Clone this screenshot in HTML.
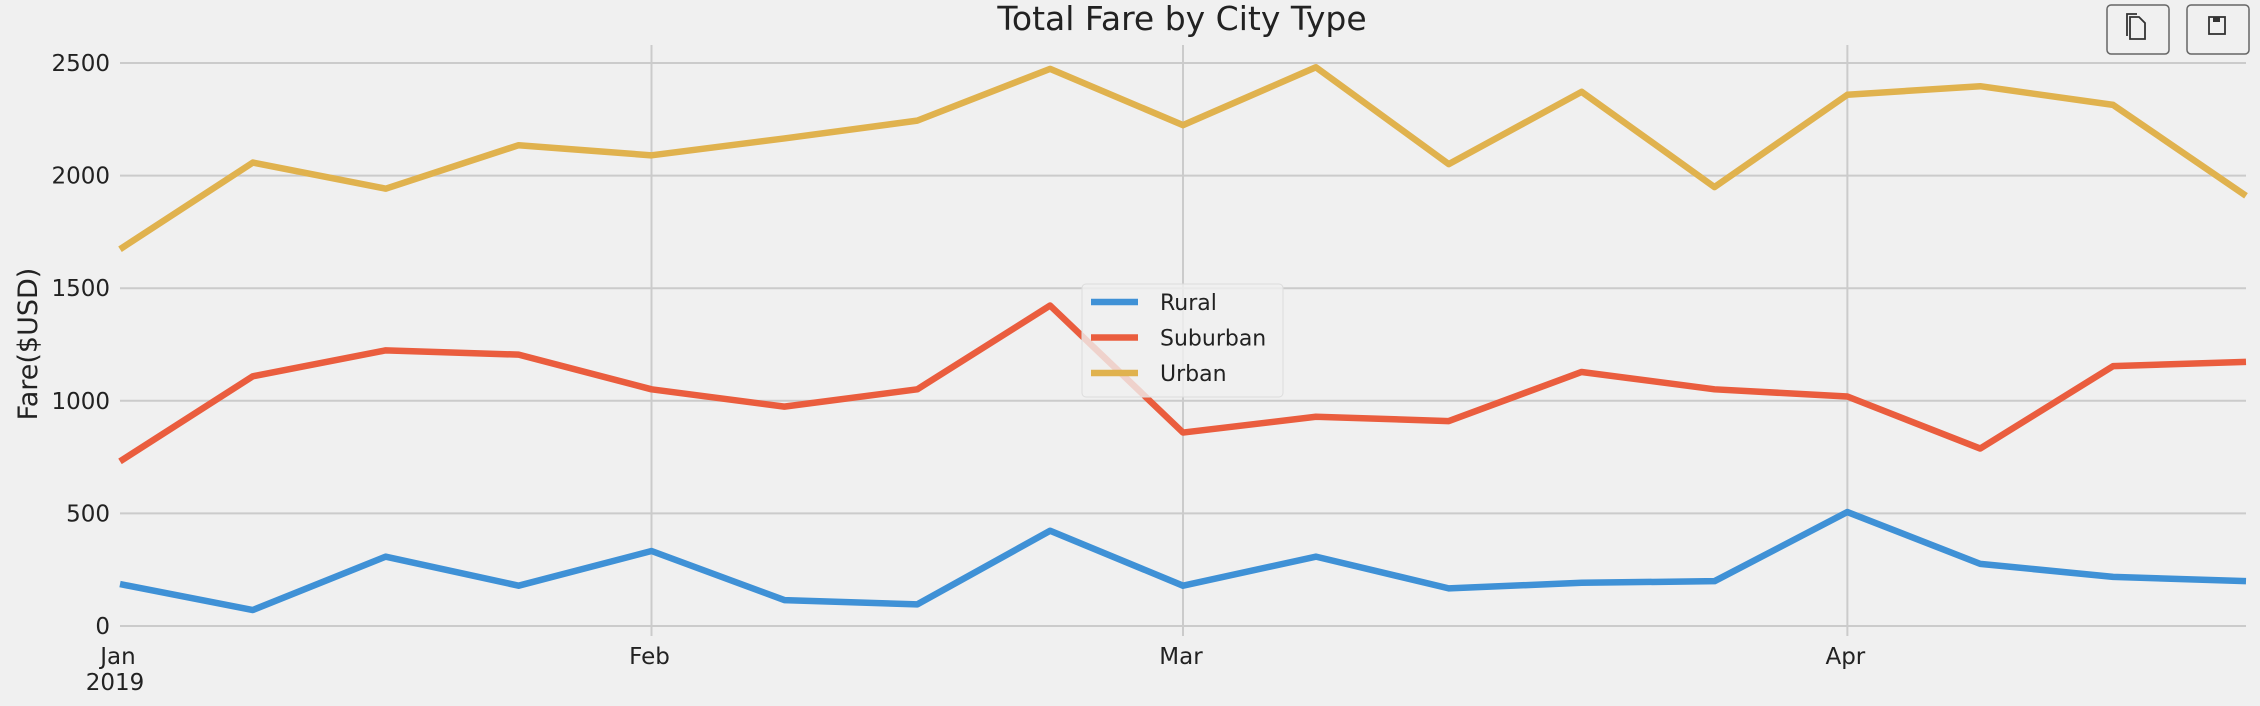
<!DOCTYPE html>
<html><head><meta charset="utf-8"><style>
html,body{margin:0;padding:0;background:#f0f0f0;}
svg{display:block;font-family:"DejaVu Sans","Liberation Sans",sans-serif;}
</style></head><body>
<svg id="chart" width="2260" height="706" viewBox="0 0 2260 706">
<rect x="0" y="0" width="2260" height="706" fill="#f0f0f0"/>
<g id="grid"></g>
<g id="lines"></g>
<g id="axes"></g>
<text x="1182" y="30" font-size="33" text-anchor="middle" fill="#222">Total Fare by City Type</text>
<text transform="translate(37,344) rotate(-90)" font-size="27" text-anchor="middle" fill="#222">Fare($USD)</text>
<g>
<rect x="1082" y="284" width="201" height="113" rx="4" fill="#f0f0f0" fill-opacity="0.8" stroke="#dcdcdc" stroke-width="1"/>
<g id="legend-entries"></g>
</g>
<g>
<rect x="2107" y="5" width="62" height="49" rx="4" fill="#f0f0f0" stroke="#666" stroke-width="1.5"/>
<path d="M2130 17 h9 l6 6 v16 h-15 z" fill="none" stroke="#333" stroke-width="1.8"/>
<path d="M2127 36 v-22 h10" fill="none" stroke="#333" stroke-width="1.8"/>
</g>
<g>
<rect x="2187" y="5" width="62" height="49" rx="4" fill="#f0f0f0" stroke="#666" stroke-width="1.5"/>
<rect x="2209" y="17" width="16" height="17" fill="none" stroke="#333" stroke-width="1.8"/>
<rect x="2213" y="17" width="7" height="5" fill="#333"/>
</g>
</svg>
<script>
const categories = ["2019-01-06","2019-01-13","2019-01-20","2019-01-27","2019-02-03","2019-02-10","2019-02-17","2019-02-24","2019-03-03","2019-03-10","2019-03-17","2019-03-24","2019-03-31","2019-04-07","2019-04-14","2019-04-21","2019-04-28"];
const rural = [186,71,308,179,333,115,96,423,179,308,167,192,199,506,276,218,199];
const suburban = [731,1109,1224,1205,1051,974,1051,1423,859,929,910,1128,1051,1019,788,1154,1173];
const urban = [1673,2058,1942,2135,2090,2165,2244,2474,2224,2481,2051,2372,1949,2359,2397,2314,1910];
const seriesNames = ["Rural","Suburban","Urban"];
const seriesColors = ["#3f91d6","#ea5d3e","#e0b24e"];
const yTicks = [0,500,1000,1500,2000,2500];
const monthTickIndex = [0,4,8,13];
const monthTickLabels = ["Jan","Feb","Mar","Apr"];

const NS="http://www.w3.org/2000/svg";
const X0=120,X1=2246,Y0=626,Y1=63;
function xs(i){return X0+i*(X1-X0)/(categories.length-1);}
function ys(v){return Y0-(v/2500)*(Y0-Y1);}
function mk(t,a,p){const e=document.createElementNS(NS,t);for(const k in a)e.setAttribute(k,a[k]);p.appendChild(e);return e;}
const grid=document.getElementById('grid'),lines=document.getElementById('lines'),axes=document.getElementById('axes');
yTicks.forEach(v=>{
  const l=mk('line',{x1:X0,x2:X1,y1:ys(v),y2:ys(v),stroke:'#cbcbcb','stroke-width':2},grid);
  
  
  const t=mk('text',{x:110,y:ys(v)+8,'font-size':23,'text-anchor':'end',fill:'#222'},axes);
  t.textContent=v;
  
  
});
monthTickIndex.forEach((idx,k)=>{
  if(idx>0){
    const l=mk('line',{x1:xs(idx),x2:xs(idx),y1:45,y2:636,stroke:'#cbcbcb','stroke-width':2},grid);
    
    
  }
  const t=mk('text',{x:xs(idx)-2,y:664,'font-size':23,'text-anchor':'middle',fill:'#222'},axes);
  t.textContent=monthTickLabels[k];
  
  
});
const yr=mk('text',{x:115,y:690,'font-size':23,'text-anchor':'middle',fill:'#222'},axes);
yr.textContent='2019';


[rural,suburban,urban].forEach((arr,s)=>{
  const p=mk('polyline',{points:arr.map((v,i)=>xs(i)+','+ys(v)).join(' '),fill:'none',stroke:seriesColors[s],'stroke-width':6.5,'stroke-linejoin':'round'},lines);
  
  
});
const le=document.getElementById('legend-entries');
seriesNames.forEach((n,s)=>{
  const y=302+s*35.5;
  const l=mk('line',{x1:1091,x2:1138,y1:y,y2:y,stroke:seriesColors[s],'stroke-width':6.5},le);
  
  
  const t=mk('text',{x:1160,y:y+8,'font-size':22,fill:'#222'},le);
  t.textContent=n;
  
  
});
</script>
</body></html>
